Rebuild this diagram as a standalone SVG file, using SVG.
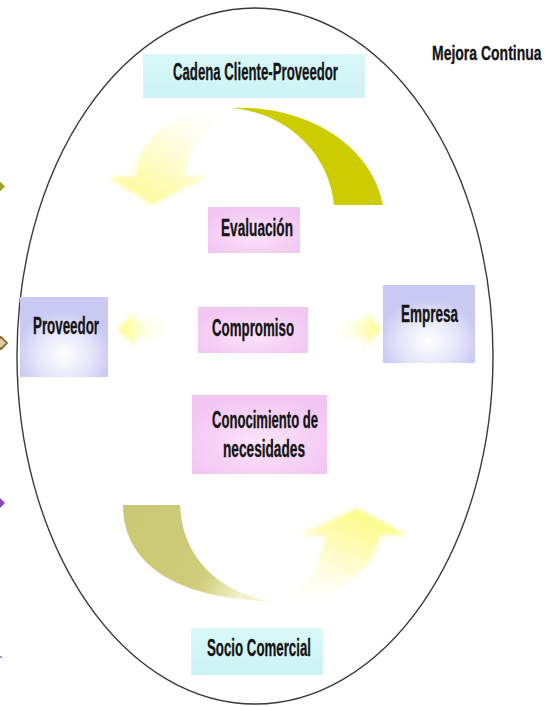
<svg xmlns="http://www.w3.org/2000/svg" width="545" height="706" viewBox="0 0 545 706">
  <defs>
    <style>
      .lbl { font-family: "Liberation Sans", Arial, sans-serif; font-weight: bold; font-size: 23px; fill: #141414; stroke: #141414; stroke-width: 0.3; }
      .ring { fill: none; stroke: #3a3a3a; stroke-width: 1.4; }
    </style>
    <radialGradient id="gLav" cx="0.5" cy="0.72" r="0.55">
      <stop offset="0" stop-color="#ffffff"/>
      <stop offset="0.55" stop-color="#e6e6fb"/>
      <stop offset="1" stop-color="#c9c9f3"/>
    </radialGradient>
    <radialGradient id="gPink" cx="0.5" cy="0.6" r="0.6">
      <stop offset="0" stop-color="#fbe4fb"/>
      <stop offset="1" stop-color="#f2c6f2"/>
    </radialGradient>
    <linearGradient id="gCyan" x1="0" y1="0" x2="0" y2="1">
      <stop offset="0" stop-color="#d9f8f8"/>
      <stop offset="1" stop-color="#cdf3f5"/>
    </linearGradient>
    <linearGradient id="gPaleTop" x1="1" y1="0" x2="0.2" y2="1">
      <stop offset="0" stop-color="#ffffff" stop-opacity="0"/>
      <stop offset="0.45" stop-color="#fffde0"/>
      <stop offset="1" stop-color="#fdfb96"/>
    </linearGradient>
    <linearGradient id="gPaleBot" x1="0" y1="1" x2="0.6" y2="0">
      <stop offset="0" stop-color="#ffffff" stop-opacity="0"/>
      <stop offset="0.45" stop-color="#fffde0"/>
      <stop offset="1" stop-color="#fdfb86"/>
    </linearGradient>
    <linearGradient id="gKhaki" x1="0" y1="0" x2="1" y2="0.3">
      <stop offset="0" stop-color="#cac874"/>
      <stop offset="0.7" stop-color="#cfcc7a"/>
      <stop offset="1" stop-color="#f4f2c8"/>
    </linearGradient>
    <linearGradient id="gLeft" x1="0" y1="0" x2="1" y2="0">
      <stop offset="0" stop-color="#fcfa7a"/>
      <stop offset="1" stop-color="#ffffff" stop-opacity="0"/>
    </linearGradient>
    <linearGradient id="gRight" x1="1" y1="0" x2="0" y2="0">
      <stop offset="0" stop-color="#fcfa7a"/>
      <stop offset="1" stop-color="#ffffff" stop-opacity="0"/>
    </linearGradient>
    <filter id="soft" x="-20%" y="-20%" width="140%" height="140%">
      <feGaussianBlur stdDeviation="2"/>
    </filter>
    <filter id="softBox" x="-10%" y="-10%" width="120%" height="120%">
      <feGaussianBlur stdDeviation="0.7"/>
    </filter>
  </defs>

  <rect x="0" y="0" width="545" height="706" fill="#ffffff"/>

  <ellipse id="ring" class="ring" cx="255" cy="356" rx="238" ry="348"/>

  <g id="bullets">
    <polygon points="5,186.5 0,181.5 -5,186.5 0,191.5" fill="#a3a21e"/>
    <polygon points="7,343 1,337 -5,343 1,349" fill="#dccba0" stroke="#7a5a1e" stroke-width="1.6"/>
    <polygon points="5,503 0,498 -5,503 0,508" fill="#8a45b8"/>
    <rect x="0" y="656" width="2" height="2" fill="#b58ad6"/>
  </g>

  <g id="connectors">
    <path id="arrow-top-olive" d="M 232 108 C 300 105, 370 140, 383 205 L 334 205 C 330 158, 292 114, 232 108 Z" fill="#cccc00"/>
    <path id="arrow-top-pale" d="M 232 108 C 180 110, 140 130, 135 176 L 108 177 L 152 205 L 212 175 L 185 176 C 190 140, 210 118, 240 112 Z" fill="url(#gPaleTop)" filter="url(#soft)"/>
    <path id="arrow-bottom-khaki" d="M 123 505 L 180 505 C 182 555, 215 590, 268 601 C 170 598, 123 560, 123 505 Z" fill="url(#gKhaki)"/>
    <path id="arrow-bottom-pale" d="M 262 600 C 300 598, 322 570, 325 535 L 300 535 L 357 508 L 407 535 L 380 535 C 375 575, 330 600, 275 602 Z" fill="url(#gPaleBot)" filter="url(#soft)"/>
    <path id="arrow-left" d="M 118 329 L 135 311 L 135 320 L 172 320 L 172 338 L 135 338 L 135 347 Z" fill="url(#gLeft)" filter="url(#soft)"/>
    <path id="arrow-right" d="M 381 329 L 366 311 L 366 320 L 330 320 L 330 338 L 366 338 L 366 347 Z" fill="url(#gRight)" filter="url(#soft)"/>
  </g>

  <g id="node-mejora">
    <text class="lbl" transform="translate(432,60) scale(1,1.45)" x="0" y="0" style="font-size:14px; stroke-width:0.2px">Mejora Continua</text>
  </g>

  <g id="node-cadena">
    <rect x="143" y="54" width="222" height="44" fill="url(#gCyan)" filter="url(#softBox)"/>
    <text class="lbl" x="173" y="80" textLength="165" lengthAdjust="spacingAndGlyphs">Cadena Cliente-Proveedor</text>
  </g>

  <g id="node-evaluacion">
    <rect x="208" y="207" width="92" height="46" fill="url(#gPink)" filter="url(#softBox)"/>
    <text class="lbl" x="221" y="236" textLength="72" lengthAdjust="spacingAndGlyphs">Evaluación</text>
  </g>

  <g id="node-compromiso">
    <rect x="198" y="307" width="110" height="46" fill="url(#gPink)" filter="url(#softBox)"/>
    <text class="lbl" x="212" y="336" textLength="82" lengthAdjust="spacingAndGlyphs">Compromiso</text>
  </g>

  <g id="node-conocimiento">
    <rect x="192" y="395" width="135" height="79" fill="url(#gPink)" filter="url(#softBox)"/>
    <text class="lbl" x="212" y="428" textLength="106" lengthAdjust="spacingAndGlyphs">Conocimiento de</text>
    <text class="lbl" x="223" y="457" textLength="82" lengthAdjust="spacingAndGlyphs">necesidades</text>
  </g>

  <g id="node-proveedor">
    <rect x="20" y="297" width="88" height="80" fill="url(#gLav)" filter="url(#softBox)"/>
    <text class="lbl" x="33" y="334" textLength="66" lengthAdjust="spacingAndGlyphs">Proveedor</text>
  </g>

  <g id="node-empresa">
    <rect x="383" y="285" width="92" height="78" fill="url(#gLav)" filter="url(#softBox)"/>
    <text class="lbl" x="401" y="322" textLength="57" lengthAdjust="spacingAndGlyphs">Empresa</text>
  </g>

  <g id="node-socio">
    <rect x="191" y="628" width="132" height="47" fill="url(#gCyan)" filter="url(#softBox)"/>
    <text class="lbl" x="207" y="656" textLength="104" lengthAdjust="spacingAndGlyphs">Socio Comercial</text>
  </g>
</svg>
